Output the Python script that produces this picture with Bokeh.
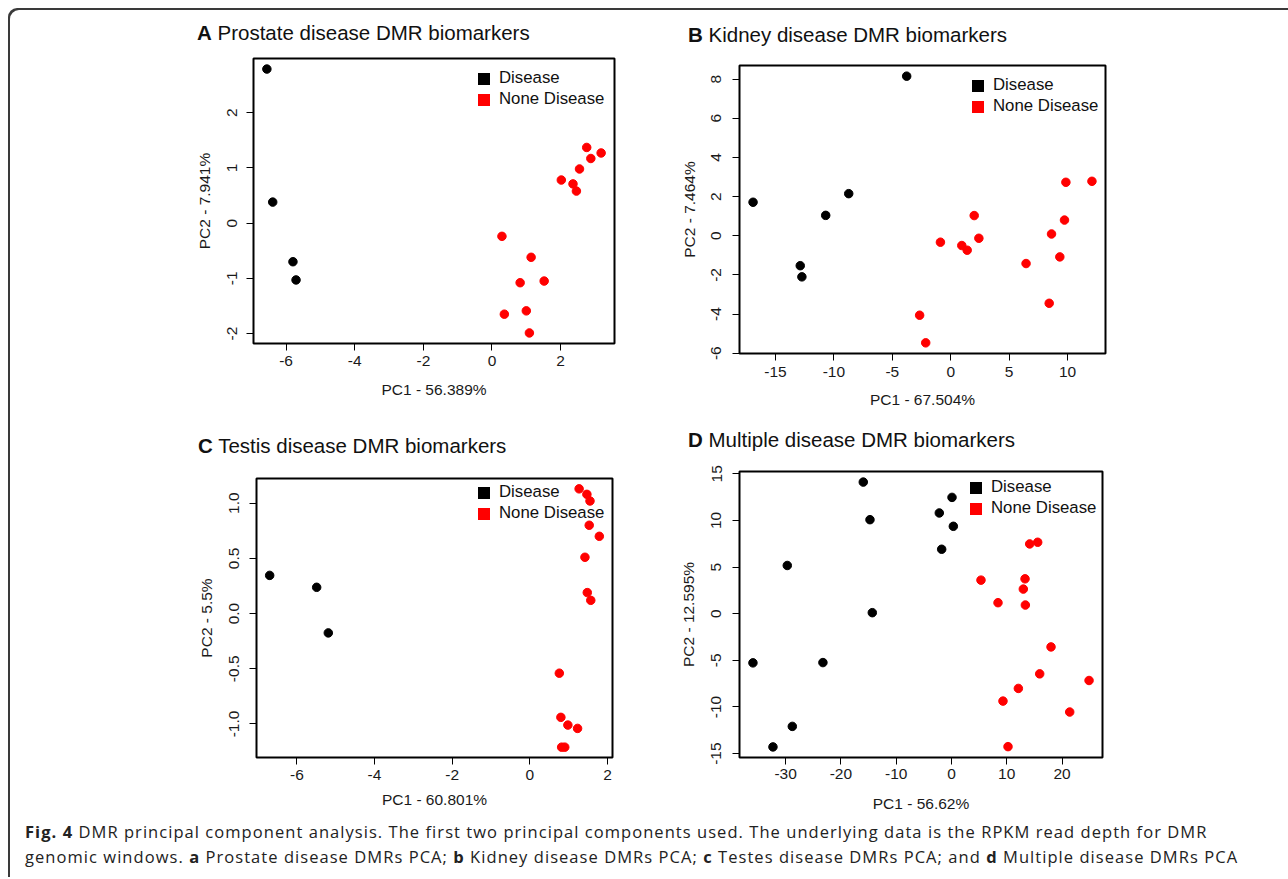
from bokeh.plotting import figure
from bokeh.models import FixedTicker, Range1d, Legend, LegendItem, Div, Spacer
from bokeh.layouts import column, row
from bokeh.embed import file_html
from bokeh.resources import INLINE

# ---------------- data ----------------
A_dis_x = [-6.56, -6.39, -5.80, -5.71]
A_dis_y = [2.79, 0.38, -0.70, -1.03]
A_non_x = [2.76, 3.18, 2.88, 2.55, 2.02, 2.36, 2.46, 0.29, 1.14, 0.82, 1.52, 1.00, 0.36, 1.09]
A_non_y = [1.37, 1.27, 1.17, 0.98, 0.78, 0.71, 0.58, -0.24, -0.62, -1.08, -1.05, -1.59, -1.65, -1.99]
A_xticks = [-6, -4, -2, 0, 2]
A_xlabels = ["-6", "-4", "-2", "0", "2"]
A_yticks = [-2, -1, 0, 1, 2]
A_ylabels = ["-2", "-1", "0", "1", "2"]

B_dis_x = [-3.77, -16.92, -8.73, -10.70, -12.88, -12.74]
B_dis_y = [8.15, 1.71, 2.15, 1.04, -1.53, -2.10]
B_non_x = [12.09, 9.86, 2.01, 9.74, 8.63, -0.88, 0.95, 1.41, 2.41, 9.34, 6.45, 8.43, -2.66, -2.14]
B_non_y = [2.78, 2.73, 1.03, 0.80, 0.09, -0.33, -0.50, -0.74, -0.13, -1.08, -1.42, -3.45, -4.06, -5.47]
B_xticks = [-15, -10, -5, 0, 5, 10]
B_xlabels = ["-15", "-10", "-5", "0", "5", "10"]
B_yticks = [-6, -4, -2, 0, 2, 4, 6, 8]
B_ylabels = ["-6", "-4", "-2", "0", "2", "4", "6", "8"]

C_dis_x = [-6.70, -5.49, -5.19]
C_dis_y = [0.346, 0.238, -0.175]
C_non_x = [1.27, 1.47, 1.55, 1.53, 1.79, 1.42, 1.48, 1.57, 0.76, 0.80, 0.98, 1.23, 0.82, 0.90]
C_non_y = [1.13, 1.08, 1.02, 0.80, 0.70, 0.51, 0.19, 0.12, -0.54, -0.94, -1.01, -1.04, -1.21, -1.21]
C_xticks = [-6, -4, -2, 0, 2]
C_xlabels = ["-6", "-4", "-2", "0", "2"]
C_yticks = [-1.0, -0.5, 0.0, 0.5, 1.0]
C_ylabels = ["-1.0", "-0.5", "0.0", "0.5", "1.0"]

D_dis_x = [-15.95, 0.10, -2.20, -14.74, 0.34, -1.77, -29.70, -14.32, -35.91, -23.25, -28.79, -32.29]
D_dis_y = [14.11, 12.47, 10.80, 10.08, 9.37, 6.91, 5.17, 0.11, -5.27, -5.24, -12.08, -14.28]
D_non_x = [14.15, 15.60, 5.34, 13.31, 13.00, 8.42, 13.37, 18.01, 15.96, 24.89, 12.10, 9.32, 21.39, 10.23]
D_non_y = [7.48, 7.66, 3.60, 3.74, 2.64, 1.18, 0.93, -3.56, -6.45, -7.16, -8.01, -9.37, -10.54, -14.25]
D_xticks = [-30, -20, -10, 0, 10, 20]
D_xlabels = ["-30", "-20", "-10", "0", "10", "20"]
D_yticks = [-15, -10, -5, 0, 5, 10, 15]
D_ylabels = ["-15", "-10", "-5", "0", "5", "10", "15"]

legend_labels = ["Disease", "None Disease"]
group_colors = ["#000000", "#ff0000"]

FONT = "Liberation Sans"
NAN = float("nan")


def pad_range(vals):
    lo, hi = min(vals), max(vals)
    d = (hi - lo) * 0.04
    return Range1d(lo - d, hi + d)


def panel(dis_x, dis_y, non_x, non_y, xticks, xlabels, yticks, ylabels,
          xlab, ylab, fw, fh, bl, br, bt, bb, leg_dx, leg_dt,
          ys, yas, xs, xas):
    p = figure(frame_width=fw, frame_height=fh,
               min_border_left=bl, min_border_right=br,
               min_border_top=bt, min_border_bottom=bb,
               x_range=pad_range(dis_x + non_x), y_range=pad_range(dis_y + non_y),
               toolbar_location=None, output_backend="svg",
               background_fill_color="white", border_fill_color=None)
    p.grid.visible = False
    p.outline_line_color = "black"
    p.outline_line_width = 2
    p.outline_line_alpha = 1

    for ax in (p.xaxis[0], p.yaxis[0]):
        ax.axis_line_color = None
        ax.major_tick_out = 7
        ax.major_tick_in = 0
        ax.major_tick_line_color = "black"
        ax.major_tick_line_width = 1
        ax.minor_tick_line_color = None
        ax.major_label_text_font = FONT
        ax.major_label_text_font_size = "15.5px"
        ax.major_label_text_color = "#1a1a1a"
        ax.axis_label_text_font = FONT
        ax.axis_label_text_font_size = "15.5px"
        ax.axis_label_text_font_style = "normal"
        ax.axis_label_text_color = "#1a1a1a"

    p.xaxis.ticker = FixedTicker(ticks=xticks)
    p.xaxis.major_label_overrides = {t: l for t, l in zip(xticks, xlabels)}
    p.yaxis.ticker = FixedTicker(ticks=yticks)
    p.yaxis.major_label_overrides = {t: l for t, l in zip(yticks, ylabels)}
    p.yaxis.major_label_orientation = "vertical"
    p.xaxis.axis_label = xlab
    p.yaxis.axis_label = ylab
    p.yaxis.major_label_standoff = ys
    p.yaxis.axis_label_standoff = yas
    p.xaxis.major_label_standoff = xs
    p.xaxis.axis_label_standoff = xas

    p.scatter(dis_x, dis_y, size=8.5, color=group_colors[0], marker="circle")
    p.scatter(non_x, non_y, size=8.5, color=group_colors[1], marker="circle")

    # legend keys (square swatches, no visible data)
    k1 = p.quad(left=[NAN], right=[NAN], top=[NAN], bottom=[NAN],
                fill_color=group_colors[0], line_color=None)
    k2 = p.quad(left=[NAN], right=[NAN], top=[NAN], bottom=[NAN],
                fill_color=group_colors[1], line_color=None)
    leg_h = 41
    legend = Legend(items=[LegendItem(label=legend_labels[0], renderers=[k1]),
                           LegendItem(label=legend_labels[1], renderers=[k2])],
                    location=(leg_dx, fh - leg_dt - leg_h),
                    glyph_width=15, glyph_height=15, label_height=15,
                    label_standoff=8, spacing=1, padding=0, margin=0,
                    border_line_color=None, background_fill_alpha=0,
                    label_text_font=FONT, label_text_font_size="16.8px",
                    label_text_color="#111111")
    p.add_layout(legend)
    return p


def title_div(letter, text, w, pad_left, pad_top):
    html = ('<div style="margin-left:%dpx; margin-top:%.1fpx; font-family:\'Liberation Sans\'; '
            'font-size:20.5px; line-height:20px; color:#111; white-space:nowrap;">'
            '<b>%s</b> %s</div>' % (pad_left, pad_top, letter, text))
    return Div(text=html, width=w, height=42, margin=0)


figA = panel(A_dis_x, A_dis_y, A_non_x, A_non_y, A_xticks, A_xlabels, A_yticks, A_ylabels,
             "PC1 - 56.389%", "PC2 - 7.941%", 361, 285, 73, 55, 8, 77, 223, 10,
             9, 12, 5, 12)
figB = panel(B_dis_x, B_dis_y, B_non_x, B_non_y, B_xticks, B_xlabels, B_yticks, B_ylabels,
             "PC1 - 67.504%", "PC2 - 7.464%", 366, 288, 70, 175, 15, 67, 231, 10,
             11, 11, 6, 11)
figC = panel(C_dis_x, C_dis_y, C_non_x, C_non_y, C_xticks, C_xlabels, C_yticks, C_ylabels,
             "PC1 - 60.801%", "PC2 - 5.5%", 356, 279, 76, 57, 16, 56, 220, 4,
             10, 12, 5, 8)
figD = panel(D_dis_x, D_dis_y, D_non_x, D_non_y, D_xticks, D_xlabels, D_yticks, D_ylabels,
             "PC1 - 56.62%", "PC2 - 12.595%", 363, 286, 70, 178, 9, 56, 229, 6,
             11, 12, 4, 13)

for f in (figA, figB, figC, figD):
    f.margin = 0

tA = title_div("A", "Prostate disease DMR biomarkers", 489, 17, 14.5)
tB = title_div("B", "Kidney disease DMR biomarkers", 611, 19, 17)
tC = title_div("C", "Testis disease DMR biomarkers", 489, 18, 16)
tD = title_div("D", "Multiple disease DMR biomarkers", 611, 19, 9.5)

caption_html = (
    '<div style="margin-left:17px; margin-top:6px; font-family:\'Open Sans\'; font-size:16.5px; '
    'line-height:24.7px; color:#222; white-space:nowrap; letter-spacing:1.05px;">'
    '<b>Fig. 4</b> DMR principal component analysis. The first two principal components used. '
    'The underlying data is the RPKM read depth for DMR<br>'
    'genomic windows. <b>a</b> Prostate disease DMRs PCA; <b>b</b> Kidney disease DMRs PCA; '
    '<b>c</b> Testes disease DMRs PCA; and <b>d</b> Multiple disease DMRs PCA</div>')
caption = Div(text=caption_html, width=1280, height=63, margin=0)

top_row = row(Spacer(width=172, height=412, margin=0),
              column(tA, figA, margin=0, spacing=0),
              column(tB, figB, margin=0, spacing=0), margin=0, spacing=0)
bot_row = row(Spacer(width=172, height=393, margin=0),
              column(tC, figC, margin=0, spacing=0),
              column(tD, figD, margin=0, spacing=0), margin=0, spacing=0)

root = column(top_row, bot_row, caption, margin=(8, 0, 0, 8), spacing=0,
              styles={"box-shadow": "inset 2px 2px 0 0 #3a3a3a",
                      "border-top-left-radius": "9px"})

open("out.html", "w").write(file_html(root, INLINE))
